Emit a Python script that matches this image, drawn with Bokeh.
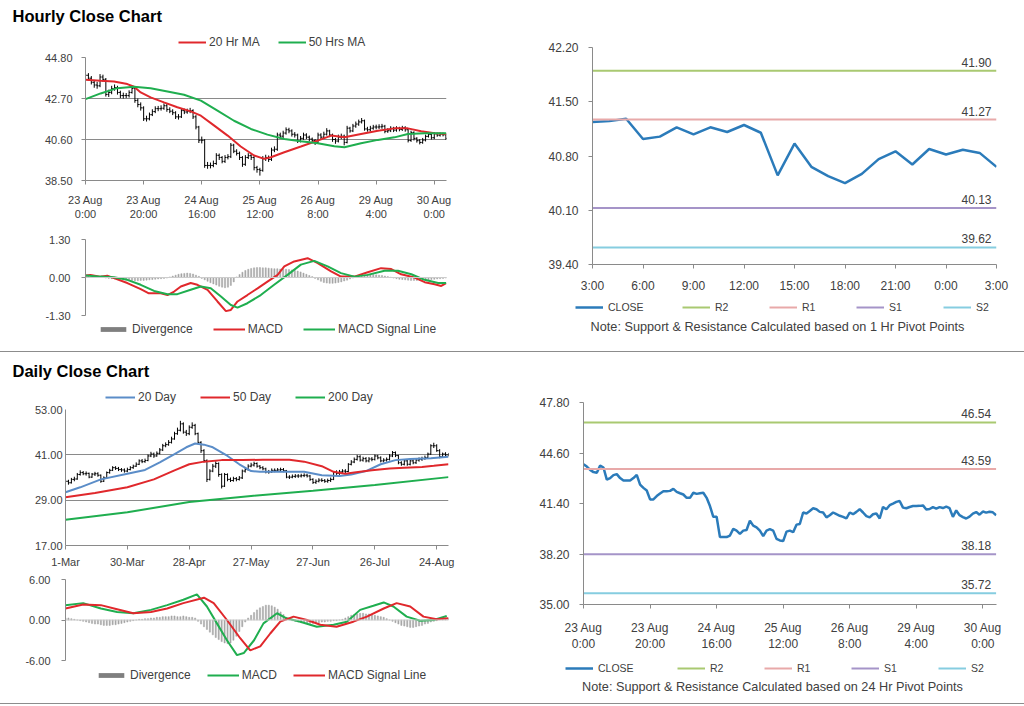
from bokeh.plotting import figure
from bokeh.models import Range1d, PrintfTickFormatter, Legend, Label, Div, Span, ColumnDataSource
from bokeh.layouts import row, column
from bokeh.embed import file_html
from bokeh.resources import INLINE
from bokeh.core.properties import value

NAN = float("nan")

# ---------------- DATA ----------------
hourly_first_open = 43.95
hourly_close = [
    43.89, 43.74, 43.53, 43.39, 43.35, 43.80, 43.68, 42.91, 43.01, 43.20,
    43.26, 43.01, 42.85, 42.85, 42.85, 43.01, 43.22, 42.60, 42.39, 42.22,
    41.66, 41.66, 41.87, 42.03, 42.18, 42.18, 42.20, 42.33, 42.14, 42.05,
    41.97, 41.76, 41.76, 42.08, 42.01, 42.05, 42.08, 41.76, 41.24, 40.56,
    40.56, 39.27, 39.27, 39.27, 39.37, 39.79, 39.68, 39.48, 39.68, 39.72,
    40.31, 40.00, 39.89, 39.68, 39.33, 39.68, 39.77, 39.68, 39.16, 39.06,
    39.02, 39.62, 39.68, 39.58, 40.06, 40.10, 40.83, 40.77, 40.93, 41.10,
    41.04, 40.87, 40.83, 40.52, 40.66, 40.83, 40.72, 40.62, 40.55, 40.45,
    40.83, 40.72, 40.87, 41.04, 40.83, 40.60, 40.52, 40.72, 40.77, 40.45,
    41.18, 41.04, 41.29, 41.39, 41.50, 41.56, 41.14, 41.10, 41.18, 41.24,
    41.24, 41.25, 41.28, 41.02, 41.05, 41.17, 41.08, 41.17, 41.11, 41.20,
    41.10, 40.55, 40.96, 40.66, 40.54, 40.45, 40.57, 40.76, 40.86, 40.69,
    40.89, 40.82, 40.88, 40.84, 40.66]
hourly_high = [
    44.15, 44.00, 43.85, 43.65, 43.55, 43.95, 43.92, 43.75, 43.15, 43.35,
    43.42, 43.35, 43.10, 43.00, 42.98, 43.12, 43.35, 43.30, 42.70, 42.50,
    42.30, 41.82, 41.98, 42.15, 42.30, 42.32, 42.35, 42.45, 42.42, 42.25,
    42.15, 42.05, 41.90, 42.20, 42.18, 42.18, 42.22, 42.15, 41.85, 41.30,
    40.75, 40.62, 39.45, 39.42, 39.52, 39.90, 39.88, 39.75, 39.80, 39.85,
    40.42, 40.38, 40.10, 39.98, 39.75, 39.80, 39.90, 39.88, 39.75, 39.25,
    39.15, 39.75, 39.82, 39.78, 40.18, 40.25, 40.95, 40.95, 41.05, 41.22,
    41.20, 41.12, 40.98, 40.90, 40.78, 40.95, 40.92, 40.80, 40.70, 40.62,
    40.95, 40.92, 41.00, 41.18, 41.10, 40.90, 40.68, 40.85, 40.90, 40.85,
    41.30, 41.25, 41.40, 41.52, 41.62, 41.70, 41.62, 41.25, 41.30, 41.35,
    41.36, 41.38, 41.40, 41.35, 41.18, 41.28, 41.25, 41.28, 41.25, 41.30,
    41.28, 41.15, 41.05, 41.02, 40.72, 40.62, 40.68, 40.85, 40.95, 40.92,
    40.98, 40.95, 40.96, 40.95, 40.90]
hourly_low = [
    43.75, 43.62, 43.42, 43.25, 43.20, 43.28, 43.55, 42.80, 42.78, 42.92,
    43.10, 42.90, 42.72, 42.70, 42.72, 42.75, 42.95, 42.48, 42.25, 42.08,
    41.55, 41.52, 41.58, 41.80, 41.95, 42.05, 42.08, 42.12, 42.02, 41.95,
    41.85, 41.65, 41.62, 41.70, 41.90, 41.92, 41.95, 41.65, 41.12, 40.42,
    40.40, 39.15, 39.10, 39.12, 39.18, 39.30, 39.55, 39.38, 39.40, 39.58,
    39.65, 39.90, 39.78, 39.55, 39.20, 39.25, 39.60, 39.55, 39.02, 38.90,
    38.75, 38.95, 39.50, 39.45, 39.50, 39.95, 40.02, 40.65, 40.68, 40.85,
    40.92, 40.75, 40.70, 40.42, 40.45, 40.58, 40.62, 40.50, 40.45, 40.32,
    40.40, 40.62, 40.65, 40.80, 40.72, 40.48, 40.38, 40.45, 40.62, 40.30,
    40.40, 40.95, 40.98, 41.20, 41.30, 41.42, 41.05, 41.00, 41.02, 41.10,
    41.12, 41.14, 41.15, 40.92, 40.94, 40.98, 40.98, 41.00, 41.02, 41.04,
    41.00, 40.45, 40.48, 40.55, 40.44, 40.35, 40.38, 40.50, 40.70, 40.60,
    40.62, 40.74, 40.75, 40.76, 40.58]
hourly_tick_pos = [0, 20, 40, 60, 80, 100, 120]
hourly_tick_labels = ["23 Aug\n0:00", "23 Aug\n20:00", "24 Aug\n16:00", "25 Aug\n12:00",
                      "26 Aug\n8:00", "29 Aug\n4:00", "30 Aug\n0:00"]

ma20h_x = [0, 5.2, 9.8, 14.4, 16.7, 19, 22.4, 27, 31.6, 36.2, 39.7, 44.3, 48.9, 53.4, 58,
           61.5, 63.8, 68.4, 74.1, 79.9, 84.5, 89.1, 94.8, 100.6, 106.3, 110.9, 115.5, 120.1, 124.1]
ma20h_y = [43.66, 43.61, 43.57, 43.44, 43.30, 43.01, 42.76, 42.50, 42.25, 42.04, 41.82, 41.31,
           40.80, 40.24, 39.78, 39.61, 39.69, 39.95, 40.24, 40.54, 40.80, 40.71, 40.88, 41.05,
           41.17, 41.17, 41.02, 40.92, 40.88]
ma50h_x = [0, 5.2, 10.9, 16.7, 22.4, 28.2, 33.9, 39.7, 45.4, 51.1, 56.9, 62.6, 68.4, 74.1,
           79.9, 85.6, 89.1, 94.8, 100.6, 106.3, 110.9, 116.7, 124.1]
ma50h_y = [42.67, 42.96, 43.23, 43.30, 43.23, 43.06, 42.89, 42.59, 42.08, 41.56, 41.14, 40.85,
           40.63, 40.51, 40.41, 40.25, 40.20, 40.41, 40.58, 40.71, 40.88, 40.92, 40.92]

macdh_x = [0, 1.7, 5, 7.5, 9.8, 14.4, 19, 21.8, 25.9, 28.2, 30.5, 32.8, 36.2, 38.5, 42, 45.4,
           48.3, 50, 52.3, 55.7, 59.2, 62.6, 66.1, 68.4, 71.8, 76.4, 79.9, 84.5, 87.9, 92.5,
           97.1, 101.7, 105.2, 108.6, 113.2, 116.7, 120.1, 122.4, 124.1]
macdh_y = [0.07, 0.09, 0.03, 0.06, -0.02, -0.19, -0.40, -0.54, -0.54, -0.60, -0.48, -0.31,
           -0.19, -0.25, -0.42, -0.82, -1.15, -1.11, -0.82, -0.60, -0.37, -0.14, 0.09, 0.38,
           0.55, 0.66, 0.49, 0.21, 0.03, 0.03, 0.18, 0.32, 0.29, 0.11, 0.0, -0.16, -0.23,
           -0.29, -0.19]
sigh_x = [0, 5.2, 9.8, 14.4, 19, 23.6, 28.2, 31.6, 36.2, 39.7, 43.1, 46.6, 50, 52.3, 55.7,
          60.3, 64.9, 69.5, 74.1, 78.7, 83.3, 87.9, 92.5, 97.1, 102.9, 107.5, 112.1, 116.7,
          121.3, 124.1]
sigh_y = [0.07, 0.03, 0.01, -0.08, -0.25, -0.46, -0.57, -0.57, -0.42, -0.31, -0.37, -0.65,
          -0.94, -1.03, -0.88, -0.60, -0.25, 0.09, 0.44, 0.57, 0.38, 0.15, 0.03, 0.09, 0.23,
          0.23, 0.11, -0.08, -0.19, -0.19]
divh = [0.05, 0.06, 0.05, 0.04, 0.03, 0.02, 0.01,
        -0.02, -0.03, -0.04, -0.05, -0.06, -0.07, -0.08, -0.09, -0.10, -0.10, -0.11, -0.11,
        -0.10, -0.10, -0.09, -0.08, -0.07, -0.06, -0.05, -0.04, -0.03, -0.02,
        0.02, 0.05, 0.08, 0.11, 0.13, 0.14, 0.15, 0.14, 0.12, 0.08, 0.04,
        -0.03, -0.08, -0.13, -0.18, -0.22, -0.26, -0.30, -0.33, -0.35, -0.33, -0.27, -0.15,
        0.02, 0.10, 0.18, 0.24, 0.28, 0.31, 0.33, 0.34, 0.34, 0.33, 0.33, 0.32, 0.31, 0.30,
        0.30, 0.29, 0.28, 0.28, 0.27, 0.26, 0.24, 0.22, 0.19, 0.15, 0.11, 0.07, 0.03,
        -0.03, -0.08, -0.13, -0.17, -0.19, -0.20, -0.20, -0.19, -0.17, -0.15, -0.12, -0.09,
        -0.05, -0.02,
        0.02, 0.04, 0.06, 0.08, 0.09, 0.10, 0.10, 0.09, 0.08, 0.07, 0.05, 0.03, 0.01,
        -0.02, -0.04, -0.06, -0.07, -0.08, -0.09, -0.10, -0.10, -0.10, -0.09, -0.09, -0.08,
        -0.08, -0.07, -0.06, -0.05, -0.04, -0.03, -0.02]

h24_tick_labels = ["3:00", "6:00", "9:00", "12:00", "15:00", "18:00", "21:00", "0:00", "3:00"]
pivot_1h = {"R2": 41.90, "R1": 41.27, "S1": 40.13, "S2": 39.62}
pivot_24h = {"R2": 46.54, "R1": 43.59, "S1": 38.18, "S2": 35.72}

daily_first_open = 33.5
daily_close = [
    34.0, 33.6, 34.5, 34.6, 35.8, 36.3, 36.0, 36.1, 35.1, 35.9,
    36.0, 35.6, 34.0, 34.9, 36.3, 36.9, 37.6, 37.4, 37.1, 37.0,
    36.7, 37.1, 37.6, 38.0, 38.5, 39.4, 39.2, 39.5, 40.7, 41.2,
    40.7, 41.4, 42.3, 43.4, 43.7, 44.3, 45.2, 46.6, 47.5, 49.2,
    47.0, 46.6, 48.3, 48.8, 46.6, 44.3, 42.1, 39.5, 34.5, 36.7,
    38.0, 38.7, 35.8, 32.7, 35.8, 34.5, 34.2, 34.7, 34.5, 34.9,
    36.7, 37.1, 38.0, 38.3, 38.7, 38.0, 37.6, 37.3, 36.5, 36.5,
    36.9, 36.9, 37.0, 37.1, 36.8, 35.1, 35.1, 35.3, 35.4, 35.4,
    35.5, 35.6, 35.4, 34.5, 33.7, 34.0, 34.3, 34.2, 34.0, 34.2,
    34.5, 36.3, 36.1, 36.5, 36.7, 36.6, 38.5, 39.1, 39.8, 40.5,
    39.6, 40.0, 39.4, 39.9, 39.8, 40.7, 40.2, 39.4, 39.6, 39.8,
    40.7, 41.6, 40.8, 38.9, 38.5, 39.4, 38.5, 39.4, 38.9, 39.6,
    39.8, 40.0, 40.3, 41.2, 43.4, 43.4, 42.1, 40.5, 41.2, 41.0,
    41.0]
daily_high = [
    34.6, 34.4, 34.9, 35.2, 36.2, 36.9, 36.7, 36.6, 36.3, 36.2,
    36.5, 36.4, 35.8, 35.3, 36.6, 37.3, 38.0, 38.0, 37.8, 37.5,
    37.4, 37.6, 38.0, 38.4, 39.0, 39.8, 39.9, 40.0, 41.1, 41.8,
    41.6, 41.9, 42.8, 43.9, 44.3, 44.9, 45.8, 47.1, 48.2, 50.0,
    49.6, 47.6, 48.8, 49.6, 49.2, 46.9, 44.6, 42.5, 39.8, 37.2,
    38.6, 39.3, 39.0, 36.1, 36.2, 36.1, 35.0, 35.2, 35.1, 35.4,
    37.1, 37.7, 38.5, 38.9, 39.2, 39.0, 38.3, 38.0, 37.6, 37.0,
    37.4, 37.4, 37.5, 37.6, 37.5, 37.0, 35.6, 35.8, 35.9, 35.9,
    36.0, 36.1, 36.0, 35.7, 34.8, 34.5, 34.8, 34.8, 34.6, 34.7,
    35.0, 36.6, 36.9, 37.0, 37.2, 37.2, 38.8, 39.6, 40.3, 41.0,
    40.9, 40.5, 40.4, 40.4, 40.4, 41.1, 41.0, 40.6, 40.1, 40.3,
    41.2, 42.0, 41.9, 41.0, 39.3, 39.8, 39.7, 39.8, 39.8, 40.0,
    40.3, 40.5, 40.8, 41.6, 43.8, 44.2, 43.8, 42.5, 41.6, 41.7,
    41.5]
daily_low = [
    33.2, 33.1, 33.4, 34.0, 34.4, 35.5, 35.6, 35.5, 34.8, 34.9,
    35.4, 35.2, 33.6, 33.8, 34.7, 36.0, 36.7, 37.0, 36.7, 36.5,
    36.3, 36.4, 36.9, 37.3, 37.8, 38.3, 38.8, 38.9, 39.3, 40.4,
    40.2, 40.5, 41.1, 42.0, 43.0, 43.4, 44.0, 45.0, 46.3, 47.2,
    46.6, 46.0, 46.2, 47.9, 46.2, 43.8, 41.5, 39.0, 33.8, 34.2,
    36.4, 37.5, 35.2, 32.1, 32.5, 34.0, 33.8, 33.9, 34.0, 34.2,
    34.6, 36.3, 36.8, 37.7, 37.9, 37.6, 37.2, 36.9, 36.1, 36.0,
    36.2, 36.4, 36.5, 36.6, 36.4, 34.8, 34.6, 34.8, 34.9, 34.9,
    35.0, 35.1, 35.0, 34.1, 33.3, 33.3, 33.7, 33.8, 33.6, 33.6,
    33.8, 34.3, 35.7, 35.7, 36.1, 36.1, 36.4, 38.2, 38.8, 39.5,
    39.2, 39.2, 39.0, 39.0, 39.3, 39.5, 39.8, 39.0, 39.0, 39.2,
    39.5, 40.4, 40.4, 38.5, 38.1, 38.2, 38.1, 38.2, 38.5, 38.6,
    39.2, 39.4, 39.7, 40.0, 41.0, 42.8, 41.8, 40.1, 40.2, 40.6,
    40.6]
daily_tick_pos = [0, 21, 42, 63, 84, 105, 126]
daily_tick_labels = ["1-Mar", "30-Mar", "28-Apr", "27-May", "27-Jun", "26-Jul", "24-Aug"]

ma20d_x = [0, 5, 12, 21, 27, 32, 37, 41, 44, 47, 50, 55, 59, 63, 66, 75, 81, 87, 93, 97,
           102, 107, 112, 117, 124, 130]
ma20d_y = [31.1, 32.4, 34.5, 36.0, 37.0, 39.0, 41.2, 43.0, 44.0, 43.7, 43.0, 40.7, 38.5,
           36.7, 36.5, 36.5, 36.5, 35.6, 35.4, 35.8, 36.7, 38.5, 39.6, 39.9, 40.1, 40.5]
ma50d_x = [0, 10, 21, 30, 37, 42, 47, 53, 60, 67, 76, 81, 87, 91, 95, 98, 104, 110, 115,
           121, 125, 130]
ma50d_y = [29.8, 30.9, 32.4, 34.5, 36.9, 38.5, 39.2, 39.6, 39.6, 39.7, 39.7, 39.2, 38.0,
           36.5, 36.0, 36.3, 36.9, 37.4, 37.6, 37.8, 38.1, 38.5]
ma200d_x = [0, 21, 42, 63, 84, 105, 130]
ma200d_y = [23.8, 25.8, 28.5, 30.1, 31.5, 33.0, 35.1]

macdd_x = [0, 6, 12, 17.5, 23, 29, 34.5, 40, 44.6, 48, 51.4, 54.8, 58.2, 60.5, 64, 67.2,
           71.8, 75, 79.7, 85.3, 91, 95.5, 100, 104.5, 108, 111.3, 115.8, 120.4, 125, 129.4]
macdd_y = [2.2, 2.5, 1.7, 1.2, 1.0, 1.5, 2.2, 3.0, 3.8, 2.0, -0.5, -3.0, -5.2, -4.9, -3.0,
           -0.5, 1.0, 0.25, -0.25, -1.0, -0.7, -0.25, 1.5, 2.1, 2.6, 2.0, 0.5, -0.1, 0.0, 0.6]
sigd_x = [0, 6, 12, 17.5, 23, 29, 34.5, 40, 47, 50.3, 54.8, 59.3, 62.7, 66.1, 69.5, 72.9,
          77.4, 82, 86.5, 92, 97.7, 102.3, 108, 112.4, 117, 121.5, 126, 130]
sigd_y = [1.7, 2.3, 2.2, 1.6, 1.0, 1.2, 1.7, 2.5, 3.3, 2.5, 0.0, -2.7, -4.5, -3.9, -2.0,
          -0.25, 0.5, 0.0, -0.7, -1.0, -0.25, 0.5, 1.7, 2.5, 2.0, 0.5, 0.1, 0.25]
divd = [0.3, 0.3, 0.2, 0.1, 0.0,
        -0.1, -0.2, -0.3, -0.4, -0.5, -0.6, -0.6, -0.7, -0.8, -0.8, -0.8, -0.7, -0.7, -0.6,
        -0.5, -0.4, -0.3, -0.2,
        -0.1, 0.0, 0.1, 0.1, 0.2,
        0.2, 0.3, 0.3, 0.4, 0.4, 0.5, 0.5, 0.5, 0.6, 0.6, 0.5, 0.5, 0.6, 0.5, 0.4, 0.4, 0.3,
        -0.2, -0.6, -1.0, -1.4, -1.8, -2.2, -2.6, -2.9, -3.2, -3.4, -3.5, -3.4, -3.0, -2.4,
        -1.7, -1.0, -0.3,
        0.3, 0.7, 1.1, 1.5, 1.8, 2.0, 2.2, 2.2, 2.1, 1.9, 1.6, 1.2, 0.8, 0.4, 0.1,
        -0.1, -0.2, -0.3, -0.4, -0.4, -0.5, -0.5, -0.5, -0.4, -0.4, -0.3, -0.3, -0.2, -0.2,
        -0.1, -0.1, 0.0,
        0.1, 0.3, 0.5, 0.7, 0.8, 0.9, 1.0, 1.0, 0.9, 0.9, 0.8, 0.7, 0.6, 0.5, 0.4, 0.2, 0.0,
        -0.2, -0.4, -0.6, -0.8, -0.9, -1.0, -1.1, -1.1, -1.0, -0.9, -0.8, -0.6, -0.5, -0.3,
        -0.2, -0.1,
        0.1, 0.2, 0.3, 0.3]

# ---------------- STYLE ----------------
FONT = "Liberation Sans"
TXT = "#404040"
AXC = "#8a8a8a"
RED = "#e0282c"
GREEN = "#1fae4f"
BLUE20 = "#5b8dc8"
CLOSE_C = "#2b7bba"
LEVEL_C = {"R2": "#a9c971", "R1": "#e8a9a9", "S1": "#a594c8", "S2": "#86cde0"}
DIV_C = "#a6a6a6"
DIV_LEG = "#7f7f7f"


def make_fig(w, h, xr, yr, bl, br, bt, bb):
    p = figure(width=w, height=h, x_range=Range1d(*xr), y_range=Range1d(*yr),
               output_backend="svg", toolbar_location=None,
               min_border_left=bl, min_border_right=br, min_border_top=bt, min_border_bottom=bb,
               outline_line_color=None, background_fill_color="white", border_fill_color="white")
    p.title.visible = False
    p.xgrid.visible = False
    p.ygrid.grid_line_color = AXC
    p.axis.axis_line_color = AXC
    p.axis.major_tick_line_color = AXC
    p.axis.minor_tick_line_color = None
    p.axis.major_tick_in = 0
    p.axis.major_tick_out = 4
    p.axis.major_label_text_font = FONT
    p.axis.major_label_text_font_size = "11px"
    p.axis.major_label_text_color = TXT
    p.yaxis.formatter = PrintfTickFormatter(format="%.2f")
    return p


def blank_fig(w, h):
    p = figure(width=w, height=h, x_range=Range1d(0, 1), y_range=Range1d(0, 1),
               output_backend="svg", toolbar_location=None, min_border=0, frame_align=False,
               x_axis_location=None, y_axis_location=None,
               outline_line_color=None, background_fill_color="white", border_fill_color="white")
    p.title.visible = False
    p.grid.visible = False
    return p


def swatch_line(f, color, width):
    # legend-only renderer: one undefined point, so nothing is drawn in the plot area
    return f.line(x=[NAN], y=[NAN], line_color=color, line_width=width)


def add_legend(p, items, loc, size, gw, gh, spacing, standoff, label_width=20, lh=12):
    leg = Legend(items=items, orientation="horizontal", location=loc,
                 label_text_font=FONT, label_text_font_size=size, label_text_color=TXT,
                 glyph_width=gw, glyph_height=gh, label_height=lh, label_width=label_width,
                 label_standoff=standoff, spacing=spacing, padding=0, margin=0,
                 border_line_color=None, background_fill_alpha=0)
    p.add_layout(leg)


def add_label(p, text, x, y, size, bold, align):
    p.add_layout(Label(x=x, y=y, x_units="screen", y_units="screen", text=text,
                       text_font=FONT, text_font_size=size,
                       text_font_style="bold" if bold else "normal",
                       text_color="black" if bold else TXT,
                       text_align=align, text_baseline="middle"))


def ohlc(p, close, high, low, first_open):
    idx = list(range(len(close)))
    opens = [first_open] + close[:-1]
    p.segment(x0=idx, y0=low, x1=idx, y1=high, line_color="black", line_width=1)
    p.segment(x0=[i - 0.45 for i in idx], y0=opens, x1=idx, y1=opens, line_color="black", line_width=1)
    p.segment(x0=idx, y0=close, x1=[i + 0.45 for i in idx], y1=close, line_color="black", line_width=1)


def price_header(w, h, title, title_y, names, colors, gw, leg_xy, spacing):
    f = blank_fig(w, h)
    add_label(f, title, 12, title_y, "16.5px", True, "left")
    rs = [swatch_line(f, c, 2) for c in colors]
    add_legend(f, [(n, [r]) for n, r in zip(names, rs)], leg_xy, "12px", gw, 12, spacing, 3)
    return f


def macd_panel(w, h, xr, yr, ticks, bl, br, bt, bb, div, mx, my, sx, sy, mcol, scol):
    p = make_fig(w, h, xr, yr, bl, br, bt, bb)
    p.xaxis.visible = False
    p.yaxis.ticker = ticks
    p.yaxis.major_label_standoff = 11
    p.ygrid.ticker = [ticks[0], ticks[-1]]
    p.add_layout(Span(location=0, dimension="width", line_color="#cccccc", line_width=1))
    p.vbar(x=list(range(len(div))), top=div, bottom=0, width=0.4, fill_color=DIV_C,
           line_color=DIV_C, line_width=0.5)
    p.line(mx, my, line_color=mcol, line_width=2)
    p.line(sx, sy, line_color=scol, line_width=2)
    return p


def macd_footer(w, h, mcol, scol, leg_xy, spacing):
    f = blank_fig(w, h)
    rdiv = f.vbar(x=[NAN], top=[NAN], bottom=0, width=1, fill_color=DIV_LEG, line_color=None)
    rm = swatch_line(f, mcol, 2)
    rs = swatch_line(f, scol, 2)
    add_legend(f, [("Divergence", [rdiv]), ("MACD", [rm]), ("MACD Signal Line", [rs])],
               leg_xy, "12px", 32, 6, spacing, 3)
    return f


def pivot_panel(w, h, xr, yr, yticks, xticks, xlabels, bl, br, bt, bb, xs, ys, levels,
                label_standoff):
    p = make_fig(w, h, xr, yr, bl, br, bt, bb)
    p.ygrid.visible = False
    p.axis.major_label_text_font_size = "12px"
    p.yaxis.ticker = yticks
    p.xaxis.ticker = xticks
    p.xaxis.major_label_overrides = dict(zip(xticks, xlabels))
    p.xaxis.major_label_standoff = label_standoff
    p.yaxis.major_label_standoff = 10
    p.line(xs, ys, line_color=CLOSE_C, line_width=2.5)
    for name, lvl in levels.items():
        p.line([xs[0], xs[-1]], [lvl, lvl], line_color=LEVEL_C[name], line_width=2)
    src = ColumnDataSource(dict(x=[xs[-1]] * len(levels), y=list(levels.values()),
                                t=["%.2f" % v for v in levels.values()]))
    p.text(x="x", y="y", text="t", source=src, text_font=value(FONT), text_font_size="12px",
           text_color=TXT, text_align="right", text_baseline="bottom", x_offset=-5, y_offset=-4)
    return p


def pivot_footer(w, h, close_x, rest_x, leg_y, note, note_x, note_y):
    f = blank_fig(w, h)
    rc = swatch_line(f, CLOSE_C, 2.5)
    names = ["R2", "R1", "S1", "S2"]
    rl = [swatch_line(f, LEVEL_C[n], 2) for n in names]
    add_legend(f, [("CLOSE", [rc])], (close_x, leg_y), "10.5px", 28, 12, 0, 5)
    add_legend(f, [(n, [r]) for n, r in zip(names, rl)], (rest_x, leg_y), "10.5px", 28, 12, 0, 5,
               label_width=54)
    add_label(f, note, note_x, note_y, "12.7px", False, "center")
    return f


# ---------------- HOURLY SECTION ----------------
hx = (0, 124.2)
h_hdr = price_header(520, 50, "Hourly Close Chart", 34.5, ["20 Hr MA", "50 Hrs MA"],
                     [RED, GREEN], 28, (178, 1), 18)
p_hp = make_fig(520, 175, hx, (38.5, 44.8), 85, 74, 7, 45)
p_hp.yaxis.ticker = [38.5, 40.6, 42.7, 44.8]
p_hp.xaxis.ticker = hourly_tick_pos
p_hp.xaxis.major_label_overrides = dict(zip(hourly_tick_pos, hourly_tick_labels))
p_hp.xaxis.major_label_standoff = 9
p_hp.yaxis.major_label_standoff = 9
ohlc(p_hp, hourly_close, hourly_high, hourly_low, hourly_first_open)
p_hp.line(ma20h_x, ma20h_y, line_color=RED, line_width=2)
p_hp.line(ma50h_x, ma50h_y, line_color=GREEN, line_width=2)

p_hm = macd_panel(520, 97, hx, (-1.3, 1.3), [-1.3, 0, 1.3], 85, 74, 14, 7, divh,
                  macdh_x, macdh_y, sigh_x, sigh_y, RED, GREEN)
h_mft = macd_footer(520, 29, RED, GREEN, (97, 15), 20)

h24 = list(range(25))
p_hr = pivot_panel(504, 296, (0, 24), (39.4, 42.2), [39.4, 40.1, 40.8, 41.5, 42.2],
                   [0, 3, 6, 9, 12, 15, 18, 21, 24], h24_tick_labels, 72, 28, 47, 32,
                   h24, hourly_close[-25:], pivot_1h, 10)
h_pft = pivot_footer(504, 55, 55, 162, 38,
                     "Note: Support & Resistance Calculated based on 1 Hr Pivot Points", 257, 25)

# ---------------- DAILY SECTION ----------------
dx = (0, 130)
d_hdr = price_header(520, 52, "Daily Close Chart", 34, ["20 Day", "50 Day", "200 Day"],
                     [BLUE20, RED, GREEN], 30, (105, 0.5), 24)
p_dp = make_fig(520, 166, dx, (17, 53), 65, 72, 5, 25)
p_dp.yaxis.ticker = [17, 29, 41, 53]
p_dp.yaxis.major_tick_out = 0
p_dp.xaxis.ticker = daily_tick_pos
p_dp.xaxis.major_label_overrides = dict(zip(daily_tick_pos, daily_tick_labels))
p_dp.xaxis.major_label_standoff = 6
p_dp.yaxis.major_label_standoff = 3
ohlc(p_dp, daily_close, daily_high, daily_low, daily_first_open)
p_dp.line(ma20d_x, ma20d_y, line_color=BLUE20, line_width=2)
p_dp.line(ma50d_x, ma50d_y, line_color=RED, line_width=2)
p_dp.line(ma200d_x, ma200d_y, line_color=GREEN, line_width=2)

p_dm = macd_panel(520, 96, dx, (-6, 6), [-6, 0, 6], 65, 72, 9, 6, divd,
                  macdd_x, macdd_y, sigd_x, sigd_y, GREEN, RED)
d_mft = macd_footer(520, 37, GREEN, RED, (95, 21), 16)

p_br = pivot_panel(504, 302, (0, 124.1), (35, 47.8), [35, 38.2, 41.4, 44.6, 47.8],
                   hourly_tick_pos, hourly_tick_labels, 63, 28, 50, 47,
                   list(range(len(hourly_close))), hourly_close, pivot_24h, 12)
d_pft = pivot_footer(504, 49, 45, 157, 29,
                     "Note: Support & Resistance Calculated based on 24 Hr Pivot Points", 252, 17)


def sep():
    return Div(text="", width=1024, height=1, margin=0,
               styles={"background-color": "#8c8c8c", "overflow": "hidden"})


layout = column(
    row(column(h_hdr, p_hp, p_hm, h_mft), column(p_hr, h_pft)),
    sep(),
    row(column(d_hdr, p_dp, p_dm, d_mft), column(p_br, d_pft)),
    sep())
open("out.html", "w").write(file_html(layout, INLINE))
